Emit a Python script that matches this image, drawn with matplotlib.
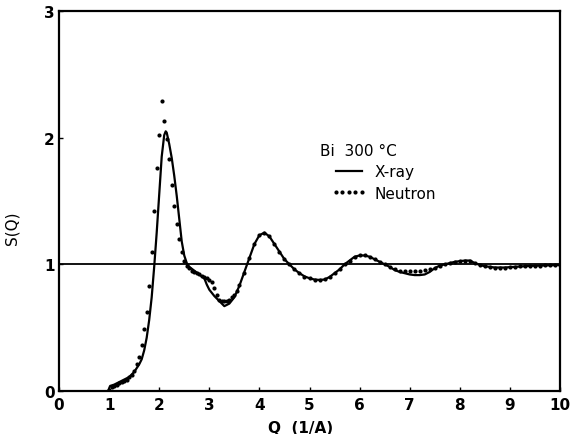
import matplotlib
matplotlib.use('Agg')
import matplotlib.pyplot as plt

# X-ray S(Q)
xray_q = [0.98, 1.00, 1.02, 1.10, 1.20, 1.30, 1.40, 1.50, 1.60, 1.65, 1.70, 1.75, 1.80,
          1.85, 1.90, 1.95, 2.00, 2.05, 2.10, 2.13, 2.15, 2.20, 2.25, 2.30, 2.35, 2.40,
          2.45, 2.50, 2.55, 2.60, 2.70, 2.80, 2.90, 2.95, 3.00, 3.10, 3.20, 3.30, 3.40,
          3.50, 3.60, 3.70, 3.80, 3.90, 4.00, 4.10, 4.20, 4.30, 4.40, 4.50, 4.60, 4.70,
          4.80, 4.90, 5.00, 5.10, 5.20, 5.30, 5.40, 5.50, 5.60, 5.70, 5.80, 5.90, 6.00,
          6.10, 6.20, 6.30, 6.40, 6.50, 6.60, 6.70, 6.80, 6.90, 7.00, 7.10, 7.20, 7.30,
          7.40, 7.50, 7.60, 7.70, 7.80, 7.90, 8.00, 8.10, 8.20, 8.30, 8.40, 8.50, 8.60,
          8.70, 8.80, 8.90, 9.00, 9.20, 9.40, 9.60, 9.80, 10.00]
xray_s = [0.00, 0.02, 0.04, 0.05, 0.07, 0.09, 0.11, 0.15, 0.21, 0.25, 0.32, 0.42, 0.56,
          0.74, 0.98, 1.25, 1.55, 1.85, 2.02, 2.05, 2.04, 1.95, 1.84, 1.70, 1.54, 1.36,
          1.18, 1.07, 1.01, 0.98, 0.95, 0.92, 0.89, 0.84, 0.80, 0.75, 0.71, 0.67, 0.69,
          0.74, 0.83, 0.94, 1.05, 1.16, 1.23, 1.25, 1.22, 1.16, 1.10, 1.04, 1.00, 0.96,
          0.93, 0.905, 0.89, 0.88, 0.877, 0.88, 0.90, 0.93, 0.96, 1.00, 1.03, 1.06, 1.07,
          1.07, 1.06, 1.04, 1.02, 1.00, 0.98, 0.955, 0.94, 0.93, 0.92, 0.915, 0.915, 0.92,
          0.94, 0.97, 0.99, 1.00, 1.01, 1.02, 1.025, 1.03, 1.03, 1.01, 0.995, 0.985, 0.98,
          0.975, 0.975, 0.975, 0.978, 0.983, 0.988, 0.99, 0.993, 0.995]

# Neutron S(Q)
neutron_q = [1.00, 1.05, 1.10, 1.15, 1.20, 1.25, 1.30, 1.35, 1.40, 1.45, 1.50, 1.55, 1.60,
             1.65, 1.70, 1.75, 1.80, 1.85, 1.90, 1.95, 2.00, 2.05, 2.10, 2.15, 2.20, 2.25,
             2.30, 2.35, 2.40, 2.45, 2.50, 2.55, 2.60, 2.65, 2.70, 2.75, 2.80, 2.85, 2.90,
             2.95, 3.00, 3.05, 3.10, 3.15, 3.20, 3.25, 3.30, 3.35, 3.40, 3.45, 3.50, 3.55,
             3.60, 3.70, 3.80, 3.90, 4.00, 4.10, 4.20, 4.30, 4.40, 4.50, 4.60, 4.70, 4.80,
             4.90, 5.00, 5.10, 5.20, 5.30, 5.40, 5.50, 5.60, 5.70, 5.80, 5.90, 6.00, 6.10,
             6.20, 6.30, 6.40, 6.50, 6.60, 6.70, 6.80, 6.90, 7.00, 7.10, 7.20, 7.30, 7.40,
             7.50, 7.60, 7.70, 7.80, 7.90, 8.00, 8.10, 8.20, 8.30, 8.40, 8.50, 8.60, 8.70,
             8.80, 8.90, 9.00, 9.10, 9.20, 9.30, 9.40, 9.50, 9.60, 9.70, 9.80, 9.90, 10.00]
neutron_s = [0.01, 0.03, 0.04, 0.05, 0.06, 0.07, 0.08, 0.09, 0.11, 0.13, 0.16, 0.21, 0.27,
             0.36, 0.49, 0.62, 0.83, 1.10, 1.42, 1.76, 2.02, 2.29, 2.13, 1.99, 1.83, 1.63,
             1.46, 1.32, 1.20, 1.10, 1.03, 0.99, 0.97, 0.95, 0.94, 0.93, 0.92, 0.91, 0.90,
             0.89, 0.88, 0.86, 0.81, 0.76, 0.72, 0.71, 0.71, 0.71, 0.72, 0.74, 0.76, 0.79,
             0.84, 0.93, 1.05, 1.16, 1.23, 1.25, 1.22, 1.16, 1.10, 1.04, 1.00, 0.96, 0.93,
             0.90, 0.89, 0.88, 0.88, 0.885, 0.90, 0.93, 0.96, 1.00, 1.03, 1.06, 1.07, 1.07,
             1.06, 1.04, 1.02, 1.00, 0.98, 0.96, 0.95, 0.945, 0.945, 0.945, 0.95, 0.955, 0.965,
             0.975, 0.99, 1.00, 1.01, 1.02, 1.03, 1.03, 1.025, 1.01, 0.995, 0.985, 0.98, 0.975,
             0.975, 0.975, 0.98, 0.98, 0.985, 0.985, 0.99, 0.99, 0.99, 0.993, 0.995, 0.995, 0.995]

xticks = list(range(0, 11))
yticks = [0, 1, 2, 3]
title_text = 'Bi  300 °C'
xlabel = 'Q  (1/A)'
ylabel = 'S(Q)'

fig = plt.figure(figsize=(5.71, 4.35), dpi=100)
ax = fig.add_axes([59 / 571, 1 - 392 / 435, 501 / 571, 380 / 435])
ax.set_xlim(0, 10)
ax.set_ylim(0, 3)

ax.axhline(1, color='black', lw=1.3, zorder=1)
ax.plot(xray_q, xray_s, color='black', lw=1.6, label='X-ray', zorder=2)
ax.plot(neutron_q, neutron_s, linestyle='none', marker='o', color='black',
        ms=3.0, mew=0, label='Neutron', zorder=3)

for sp in ax.spines.values():
    sp.set_linewidth(1.6)

ax.set_xticks(xticks)
ax.set_yticks(yticks)
ax.tick_params(direction='in', length=3, width=1, labelsize=11)
ax.tick_params(axis='x', pad=4)
ax.tick_params(axis='y', pad=3)
for lbl in ax.get_xticklabels() + ax.get_yticklabels():
    lbl.set_fontweight('bold')

ax.set_xlabel(xlabel, fontsize=11, fontweight='bold')
ax.xaxis.set_label_coords(0.483, -0.076)
ax.set_ylabel(ylabel, fontsize=11)
ax.yaxis.set_label_coords(-0.078, 0.43)

ax.text(0.521, 0.632, title_text, transform=ax.transAxes, fontsize=11,
        ha='left', va='center')
ax.legend(loc='upper left', bbox_to_anchor=(0.543, 0.597), frameon=False,
          fontsize=11, numpoints=5, handlelength=2.3, handletextpad=0.55,
          labelspacing=0.43, borderpad=0, borderaxespad=0)

fig.savefig('out.png', dpi=100)
